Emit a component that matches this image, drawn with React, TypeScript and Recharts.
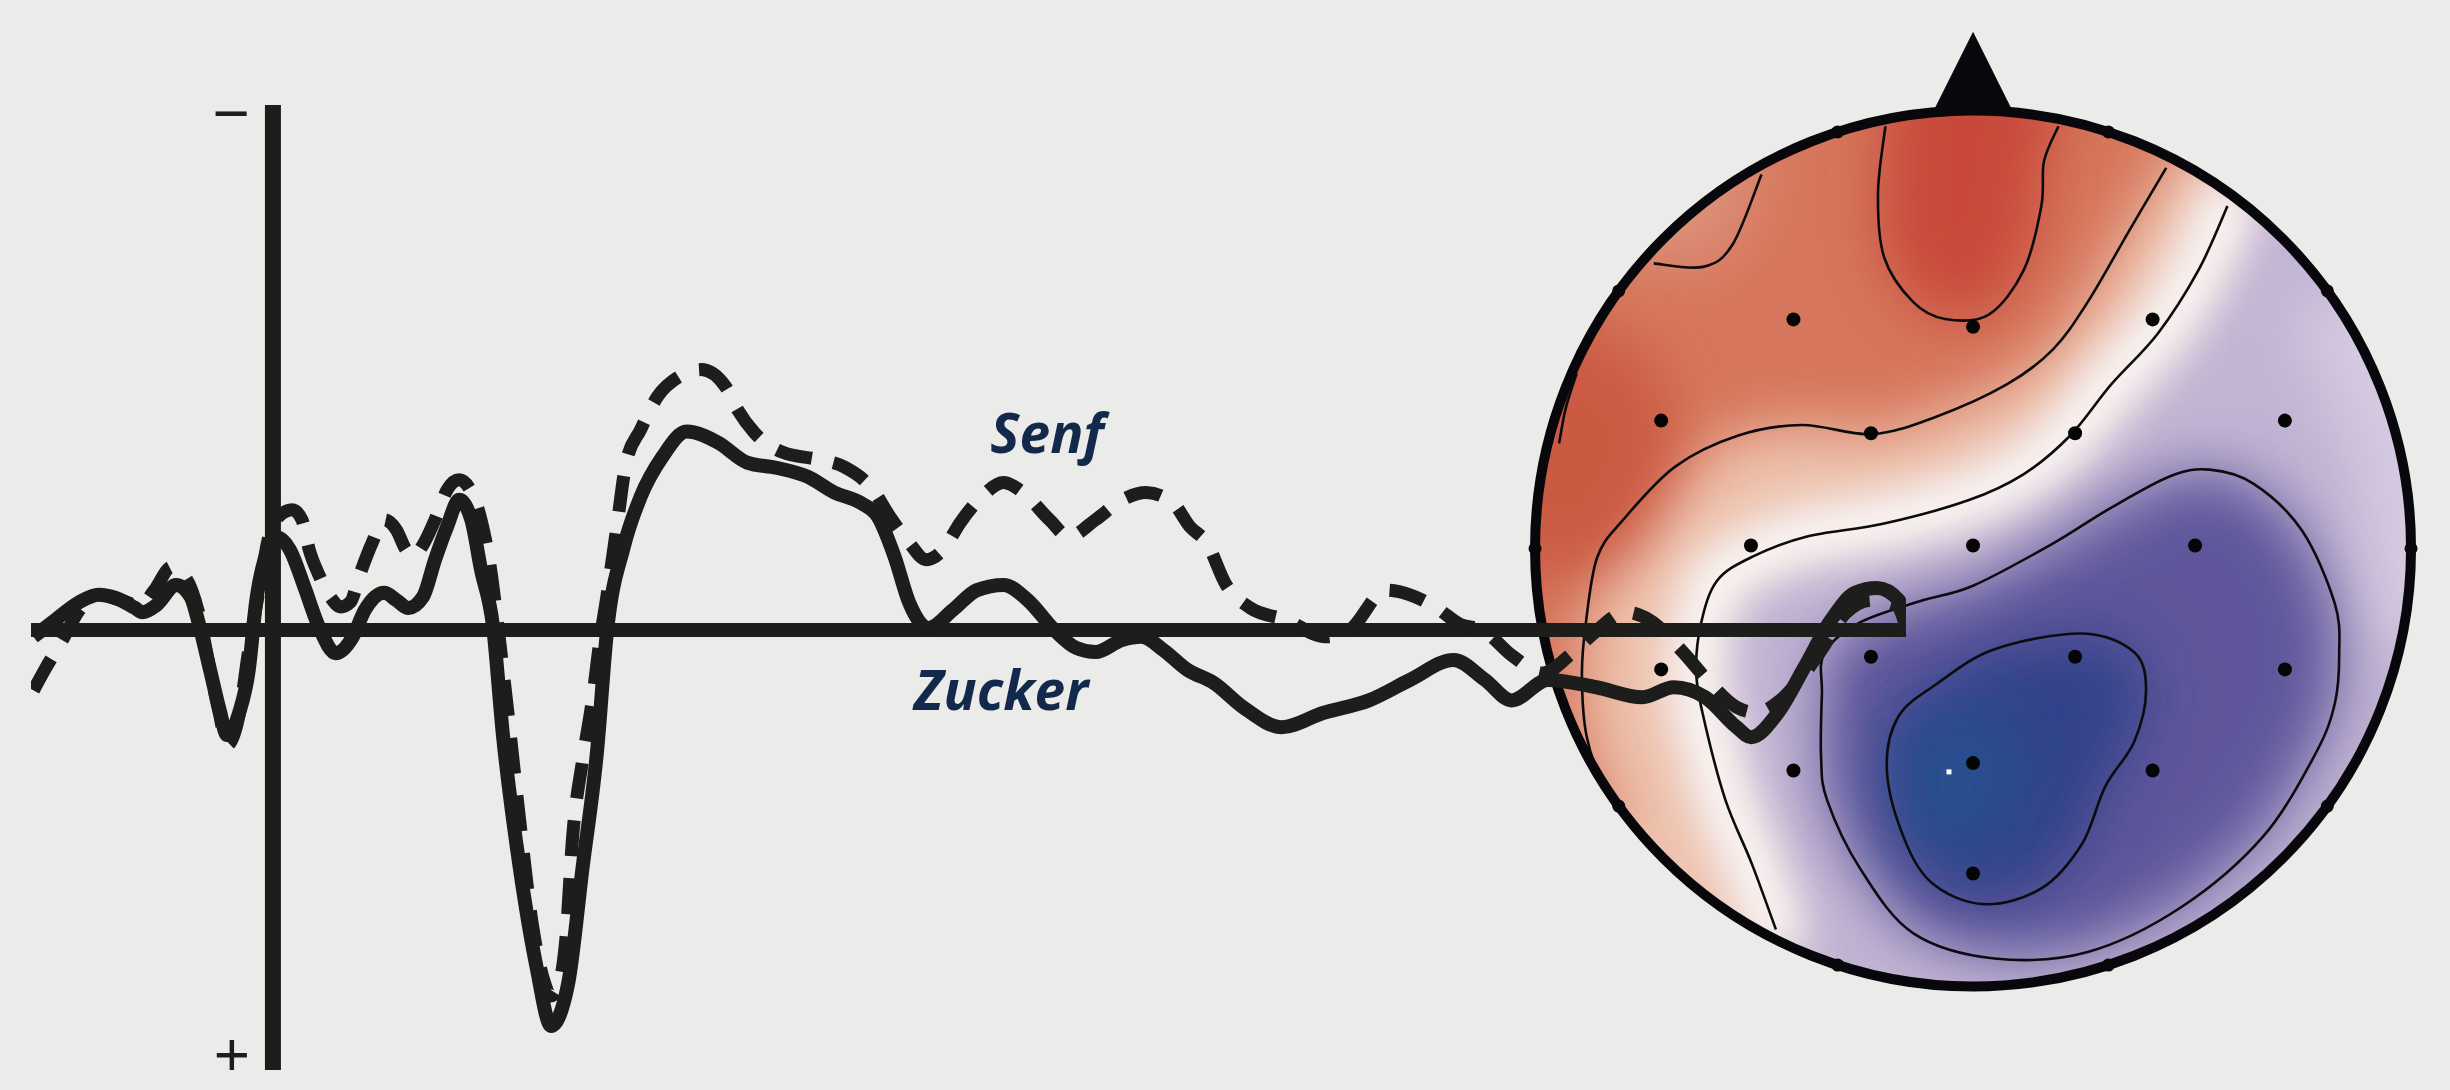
import React from "react";
import {
  LineChart,
  Line,
  XAxis,
  YAxis,
  ReferenceLine,
  ReferenceDot,
  ScatterChart,
  Scatter,
} from "recharts";

const W = 2450;
const H = 1090;
const BG = "#ebebe9";
const INK = "#1d1d1b";
const NAVY = "#13294b";

// ERP traces: time in ms, amplitude in µV (negative plotted up)
const zuckerMs = [-99, -90, -80, -72, -65, -57, -54, -48, -40, -34, -31, -26, -22, -19, -14, -10, -7, -2, 2, 7, 13, 19, 26, 33, 38, 46, 51, 56, 62, 67, 72, 77, 82, 86, 91, 95, 102, 109, 115, 122, 128, 134, 138, 145, 152, 161, 171, 184, 196, 208, 221, 232, 243, 250, 257, 263, 271, 281, 291, 302, 312, 323, 332, 340, 351, 359, 368, 378, 389, 401, 417, 434, 453, 470, 488, 501, 512, 527, 547, 566, 579, 592, 605, 611, 622, 633, 644, 654, 663, 672, 675];
const zuckerUv = [0.13, -0.19, -0.53, -0.67, -0.61, -0.42, -0.34, -0.48, -0.86, -0.63, -0.19, 0.76, 1.53, 2.0, 1.58, 0.76, -0.52, -1.53, -1.76, -1.53, -0.82, -0.06, 0.44, 0.13, -0.38, -0.71, -0.57, -0.42, -0.63, -1.34, -1.97, -2.48, -2.1, -1.15, -0.06, 1.97, 4.52, 6.43, 7.54, 6.74, 4.52, 2.29, 0.06, -1.58, -2.54, -3.3, -3.78, -3.57, -3.19, -3.09, -2.92, -2.62, -2.42, -2.16, -1.39, -0.52, -0.04, -0.38, -0.76, -0.86, -0.57, 0, 0.34, 0.42, 0.19, 0.13, 0.38, 0.76, 1.01, 1.47, 1.85, 1.58, 1.34, 0.95, 0.57, 0.95, 1.34, 0.95, 1.09, 1.28, 1.09, 1.28, 1.85, 2.04, 1.58, 0.71, -0.19, -0.71, -0.8, -0.57, -0.06];

const senfMs = [-99, -94, -87, -80, -72, -63, -55, -49, -42, -36, -31, -26, -22, -19, -14, -10, -5, -2, 3, 8, 12, 15, 19, 24, 28, 32, 36, 41, 46, 51, 55, 58, 62, 67, 72, 77, 82, 86, 90, 93, 97, 102, 107, 112, 115, 118, 121, 124, 128, 132, 135, 138, 142, 146, 152, 159, 168, 177, 187, 192, 199, 211, 225, 236, 248, 255, 263, 270, 277, 284, 293, 302, 310, 321, 329, 340, 351, 361, 372, 379, 386, 394, 404, 419, 435, 445, 460, 470, 481, 491, 500, 512, 525, 536, 546, 559, 569, 582, 594, 605, 613, 623, 631, 640, 650, 661, 671, 675];
const senfUv = [1.15, 0.73, 0.19, -0.38, -0.67, -0.57, -0.46, -0.76, -1.2, -0.99, -0.38, 0.76, 1.62, 2.19, 1.62, 0.38, -0.95, -1.72, -2.19, -2.29, -2.1, -1.53, -1.05, -0.61, -0.44, -0.53, -1.07, -1.66, -2.1, -1.91, -1.53, -1.41, -1.62, -2.1, -2.67, -2.86, -2.63, -2.1, -1.15, -0.06, 1.53, 3.63, 5.54, 6.68, 6.97, 6.78, 5.92, 3.87, 2.48, 1.34, 0.25, -0.63, -1.91, -3.19, -3.82, -4.45, -4.83, -4.96, -4.64, -4.2, -3.76, -3.38, -3.25, -3.11, -2.67, -2.16, -1.66, -1.34, -1.53, -2.04, -2.54, -2.81, -2.62, -2.1, -1.78, -2.1, -2.48, -2.62, -2.42, -1.97, -1.66, -0.86, -0.42, -0.19, 0.13, 0, -0.76, -0.67, -0.42, -0.1, 0, 0.48, 0.82, 0.48, 0.06, -0.34, -0.19, 0.38, 1.01, 1.47, 1.57, 1.34, 0.95, 0.38, -0.32, -0.57, -0.48, -0.06];

const zuckerData = zuckerMs.map((t, i) => ({ t, v: zuckerUv[i] }));
const senfData = senfMs.map((t, i) => ({ t, v: senfUv[i] }));

// topography, head radius = 1, nose up
type P = [number, number];
const electrodes: P[] = [
  [-0.41, 0.523], [0.0, 0.506], [0.41, 0.523],
  [-0.712, 0.292], [-0.233, 0.263], [0.233, 0.263], [0.712, 0.292],
  [-0.507, 0.007], [0.0, 0.007], [0.507, 0.007],
  [-0.712, -0.276], [-0.233, -0.247], [0.233, -0.247], [0.712, -0.276],
  [-0.41, -0.507], [0.0, -0.49], [0.41, -0.507],
  [0.0, -0.742],
];
const rimElectrodes: P[] = [
  [-0.309, 0.951], [0.309, 0.951], [-0.809, 0.588], [0.809, 0.588], [-1, 0], [1, 0],
  [-0.809, -0.588], [0.809, -0.588], [-0.309, -0.951], [0.309, -0.951],
];
const peakMarker: P[] = [[-0.055, -0.51]];
const nose: P[] = [[0, 1.18], [-0.095, 0.99], [0.095, 0.99]];
const headCenter: P[] = [[0, 0]];

const contourA: P[] = [[-0.2, 0.964], [-0.217, 0.811], [-0.203, 0.665], [-0.137, 0.563], [-0.064, 0.524], [0.036, 0.534], [0.116, 0.636], [0.156, 0.782], [0.162, 0.884], [0.195, 0.964]];
const contourB: P[] = [[-0.729, 0.651], [-0.616, 0.643], [-0.549, 0.694], [-0.483, 0.854]];
const contourRim: P[] = [[-0.905, 0.4], [-0.93, 0.32], [-0.945, 0.24]];
const contourC: P[] = [[0.441, 0.869], [0.355, 0.723], [0.262, 0.563], [0.182, 0.454], [0.076, 0.374], [-0.084, 0.301], [-0.23, 0.261], [-0.39, 0.282], [-0.536, 0.258], [-0.68, 0.187], [-0.8, 0.064], [-0.858, -0.02], [-0.884, -0.17], [-0.893, -0.29], [-0.882, -0.43], [-0.84, -0.55], [-0.79, -0.62]];
const contourD: P[] = [[0.581, 0.782], [0.515, 0.636], [0.422, 0.491], [0.315, 0.374], [0.222, 0.258], [0.116, 0.17], [-0.011, 0.11], [-0.203, 0.057], [-0.381, 0.027], [-0.502, -0.018], [-0.584, -0.073], [-0.621, -0.171], [-0.632, -0.285], [-0.612, -0.4], [-0.565, -0.575], [-0.505, -0.72], [-0.45, -0.87]];
const contourE: P[] = [[-0.34, -0.24], [-0.26, -0.17], [-0.12, -0.12], [0.0, -0.085], [0.18, 0.01], [0.31, 0.09], [0.45, 0.165], [0.54, 0.18], [0.64, 0.148], [0.751, 0.041], [0.826, -0.126], [0.836, -0.24], [0.826, -0.354], [0.781, -0.47], [0.661, -0.659], [0.475, -0.819], [0.262, -0.921], [0.049, -0.936], [-0.137, -0.878], [-0.257, -0.732], [-0.333, -0.575], [-0.347, -0.475], [-0.345, -0.33]];
const contourF: P[] = [[-0.084, -0.31], [0.049, -0.23], [0.249, -0.194], [0.368, -0.237], [0.395, -0.325], [0.368, -0.441], [0.302, -0.543], [0.249, -0.674], [0.156, -0.776], [0.023, -0.812], [-0.097, -0.761], [-0.164, -0.645], [-0.197, -0.499], [-0.17, -0.383]];

// colour patches (blurred, clipped to the head)
const baseArea: P[] = [[-1.2, -1.2], [1.2, -1.2], [1.2, 1.3], [-1.2, 1.3]];
const redSide: P[] = [...contourC, [-1.15, -0.85], [-1.3, 0], [-1.15, 0.95], [-0.4, 1.3], [0.3, 1.3], [0.6, 1.1]];
const leftRed: P[] = [[-0.95, 0.55], [-0.72, 0.42], [-0.66, 0.2], [-0.78, -0.02], [-0.98, -0.1], [-1.3, 0.2]];
const cornerB: P[] = [...contourB, [-0.55, 1.1], [-1.0, 0.95], [-0.95, 0.7]];
const peakA: P[] = [...contourA, [0.22, 1.2], [-0.22, 1.2]];
const blueSide: P[] = [...contourD, [-0.5, -1.2], [0.6, -1.3], [1.3, -0.6], [1.3, 0.5], [0.8, 1.1]];
const rightLight: P[] = [[0.72, 0.55], [0.88, 0.2], [0.9, -0.2], [1.3, -0.3], [1.3, 0.7]];
const centerBlob: P[] = [[-0.17, -0.42], [0.05, -0.36], [0.12, -0.52], [0.0, -0.7], [-0.16, -0.64]];

const HEAD_R = 438;
const HEAD_CX = 1973;
const HEAD_CY = 548;
const X_EXT = 1.08;
const Y_TOP = 1.25;
const Y_BOT = 1.2;

const pts = (arr: P[]) => arr.map(([x, y]) => ({ x, y }));

function linearPath(p: { x: number; y: number }[]) {
  return p.map((q, i) => `${i ? "L" : "M"}${q.x},${q.y}`).join(" ") + "Z";
}

// catmull-rom through the points
function smoothPath(p: { x: number; y: number }[], closed: boolean) {
  const n = p.length;
  const get = (i: number) => (closed ? p[(i + n) % n] : p[Math.max(0, Math.min(n - 1, i))]);
  let d = `M${p[0].x},${p[0].y}`;
  const segs = closed ? n : n - 1;
  for (let i = 0; i < segs; i++) {
    const p0 = get(i - 1), p1 = get(i), p2 = get(i + 1), p3 = get(i + 2);
    d += ` C${p1.x + (p2.x - p0.x) / 6},${p1.y + (p2.y - p0.y) / 6} ${p2.x - (p3.x - p1.x) / 6},${p2.y - (p3.y - p1.y) / 6} ${p2.x},${p2.y}`;
  }
  return closed ? d + "Z" : d;
}

const NoDot = () => <g />;

const patch = (color: string) => (p: any) => (
  <path d={linearPath(p.points)} fill={color} stroke="none" filter="url(#topoBlur)" clipPath="url(#headClip)" />
);

const contour = (closed: boolean) => (p: any) => (
  <path d={smoothPath(p.points, closed)} fill="none" stroke="#0c0c0e" strokeWidth={2.6} />
);

const whiteBand = (p: any) => (
  <path d={smoothPath(p.points, false)} fill="none" stroke="#fdfaf7" strokeWidth={56} strokeLinecap="round" filter="url(#bandBlur)" clipPath="url(#headClip)" />
);

const HeadShape = (p: any) => (
  <g>
    <defs>
      <clipPath id="headClip">
        <circle cx={p.cx} cy={p.cy} r={HEAD_R - 2} />
      </clipPath>
    </defs>
    <circle cx={p.cx} cy={p.cy} r={HEAD_R} fill="none" stroke="#08080c" strokeWidth={10} />
  </g>
);

function Topomap() {
  const regions: [P[], string][] = [
    [baseArea, "#eec3ae"],
    [redSide, "#d6765c"],
    [leftRed, "#cb5a42"],
    [cornerB, "#dc9179"],
    [peakA, "#c84a3a"],
    [blueSide, "#c2b4d3"],
    [rightLight, "#d5cbe1"],
  ];
  return (
    <ScatterChart width={2 * X_EXT * HEAD_R} height={(Y_TOP + Y_BOT) * HEAD_R} margin={{ top: 0, right: 0, bottom: 0, left: 0 }}>
      <XAxis type="number" dataKey="x" domain={[-X_EXT, X_EXT]} allowDataOverflow hide />
      <YAxis type="number" dataKey="y" domain={[-Y_BOT, Y_TOP]} allowDataOverflow hide />
      {regions.map(([r, c], i) => (
        <Scatter key={"r" + i} data={pts(r)} shape={NoDot} line={patch(c)} isAnimationActive={false} />
      ))}
      <Scatter data={pts(contourD)} shape={NoDot} line={whiteBand} isAnimationActive={false} />
      <Scatter data={pts(contourE)} shape={NoDot} line={patch("#5f579b")} isAnimationActive={false} />
      <Scatter data={pts(contourF)} shape={NoDot} line={patch("#32428a")} isAnimationActive={false} />
      <Scatter data={pts(centerBlob)} shape={NoDot} line={patch("#25508f")} isAnimationActive={false} />
      <Scatter data={pts(contourA)} shape={NoDot} line={contour(false)} isAnimationActive={false} />
      <Scatter data={pts(contourB)} shape={NoDot} line={contour(false)} isAnimationActive={false} />
      <Scatter data={pts(contourRim)} shape={NoDot} line={contour(false)} isAnimationActive={false} />
      <Scatter data={pts(contourC)} shape={NoDot} line={contour(false)} isAnimationActive={false} />
      <Scatter data={pts(contourD)} shape={NoDot} line={contour(false)} isAnimationActive={false} />
      <Scatter data={pts(contourE)} shape={NoDot} line={contour(true)} isAnimationActive={false} />
      <Scatter data={pts(contourF)} shape={NoDot} line={contour(true)} isAnimationActive={false} />
      <Scatter data={pts(headCenter)} shape={HeadShape} isAnimationActive={false} />
      <Scatter
        data={pts(nose)}
        shape={NoDot}
        line={(p: any) => <path d={linearPath(p.points)} fill="#08080c" stroke="none" />}
        isAnimationActive={false}
      />
      <Scatter data={pts(rimElectrodes)} shape={(p: any) => <circle cx={p.cx} cy={p.cy} r={6.5} fill="#08080c" />} isAnimationActive={false} />
      <Scatter data={pts(electrodes)} shape={(p: any) => <circle cx={p.cx} cy={p.cy} r={7} fill="#050505" />} isAnimationActive={false} />
      <Scatter data={pts(peakMarker)} shape={(p: any) => <rect x={p.cx - 2.5} y={p.cy - 2.5} width={5} height={5} fill="#ffffff" />} isAnimationActive={false} />
    </ScatterChart>
  );
}

function Waveforms() {
  const textFont = "'Open Sans', 'DejaVu Sans', sans-serif";
  const signFont = "'Liberation Sans', Arial, sans-serif";
  return (
    <LineChart width={W} height={H} margin={{ top: 105, right: 544, bottom: 20, left: 31 }}>
      <XAxis type="number" dataKey="t" domain={[-100, 675]} allowDataOverflow hide />
      <YAxis type="number" domain={[-10, 8.38]} reversed allowDataOverflow hide />
      <ReferenceLine x={0} stroke={INK} strokeWidth={16} />
      <ReferenceLine y={0} stroke={INK} strokeWidth={14} />
      <Line
        data={senfData}
        dataKey="v"
        type="monotone"
        stroke={INK}
        strokeWidth={13}
        strokeDasharray="36 22"
        dot={false}
        activeDot={false}
        isAnimationActive={false}
      />
      <Line
        data={zuckerData}
        dataKey="v"
        type="monotone"
        stroke={INK}
        strokeWidth={14}
        strokeLinejoin="round"
        dot={false}
        activeDot={false}
        isAnimationActive={false}
      />
      <ReferenceDot x={0} y={-9.86} r={0} fill="none" stroke="none"
        label={{ value: "−", position: "left", offset: 23, fill: INK, fontSize: 64, fontFamily: signFont }} />
      <ReferenceDot x={0} y={8.05} r={0} fill="none" stroke="none"
        label={{ value: "+", position: "left", offset: 23, fill: INK, fontSize: 62, fontFamily: signFont }} />
      <ReferenceDot x={320} y={-3.74} r={0} fill="none" stroke="none"
        label={{ value: "Senf", position: "center", fill: NAVY, fontSize: 55, fontStyle: "italic", fontWeight: 700, fontFamily: textFont }} />
      <ReferenceDot x={301} y={1.15} r={0} fill="none" stroke="none"
        label={{ value: "Zucker", position: "center", fill: NAVY, fontSize: 55, fontStyle: "italic", fontWeight: 700, fontFamily: textFont }} />
    </LineChart>
  );
}

export default function App() {
  return (
    <div style={{ position: "fixed", left: 0, top: 0, width: W, height: H, overflow: "hidden", background: BG }}>
      <svg width={0} height={0} style={{ position: "absolute" }}>
        <defs>
          <filter id="topoBlur" filterUnits="userSpaceOnUse" x={-2000} y={-2000} width={6000} height={6000}>
            <feGaussianBlur stdDeviation={30} />
          </filter>
          <filter id="bandBlur" filterUnits="userSpaceOnUse" x={-2000} y={-2000} width={6000} height={6000}>
            <feGaussianBlur stdDeviation={22} />
          </filter>
        </defs>
      </svg>
      <div style={{ position: "absolute", left: HEAD_CX - X_EXT * HEAD_R, top: HEAD_CY - Y_TOP * HEAD_R }}>
        <Topomap />
      </div>
      <div style={{ position: "absolute", left: 0, top: 0 }}>
        <Waveforms />
      </div>
    </div>
  );
}
